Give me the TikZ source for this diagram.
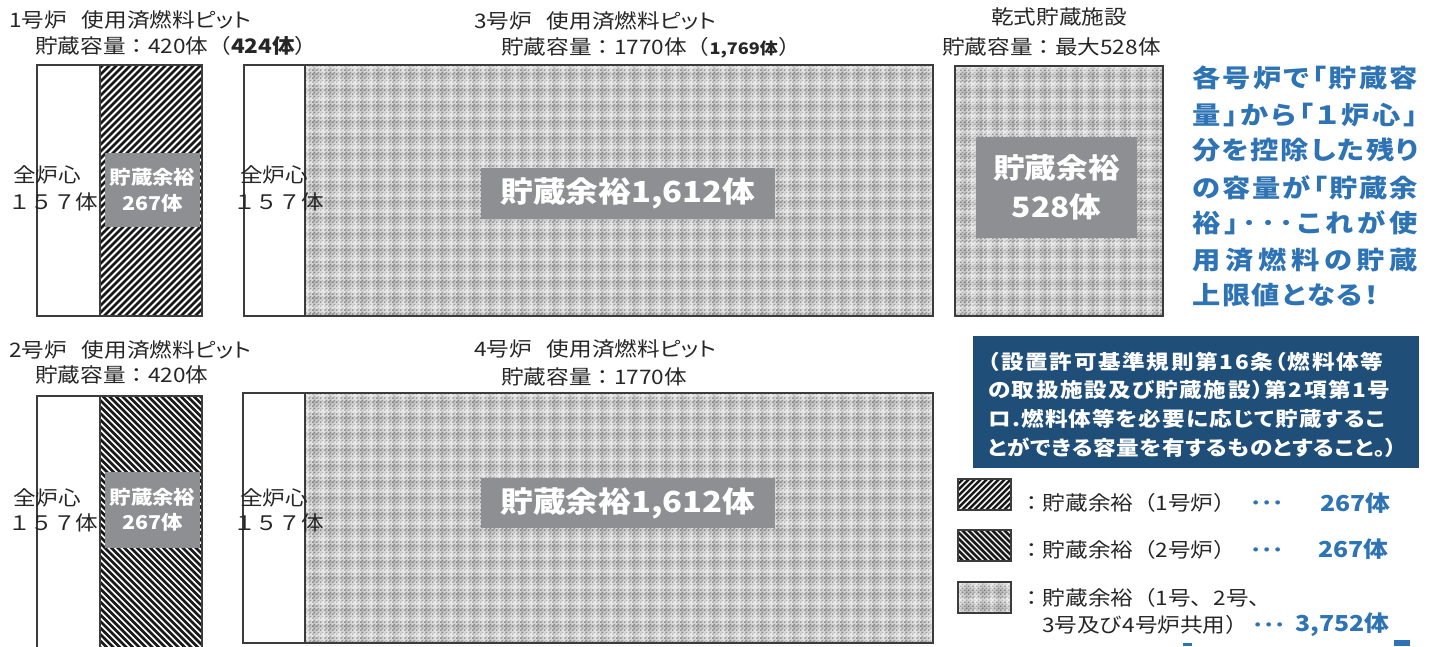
\documentclass[tikz,border=0pt]{standalone}
\usepackage{fontspec}
\setmainfont{Noto Sans CJK JP}[FakeStretch=1.13]
\newfontfamily\pj{Noto Sans CJK JP}[FakeStretch=1.13,RawFeature=+palt]
\usetikzlibrary{patterns}
\definecolor{txtc}{HTML}{262626}
\definecolor{edgec}{HTML}{3C3C3C}
\definecolor{lblc}{HTML}{8E8F93}
\definecolor{bluc}{HTML}{2E74B5}
\definecolor{navyc}{HTML}{1F4E79}
\definecolor{chkbase}{HTML}{D6D6D6}
\definecolor{chkdark}{HTML}{939393}
\pgfdeclarepatternformonly{chk}{\pgfpoint{0pt}{0pt}}{\pgfpoint{4pt}{4pt}}{\pgfpoint{4pt}{4pt}}{%
  \pgfpathrectangle{\pgfpoint{0pt}{0pt}}{\pgfpoint{2pt}{2pt}}%
  \pgfpathrectangle{\pgfpoint{2pt}{2pt}}{\pgfpoint{2pt}{2pt}}%
  \pgfusepath{fill}}
\makeatletter
\newcommand\spreadtxt[2]{\makebox[#1][s]{\spr@a#2\@nil}}
\def\spr@a#1#2\@nil{#1\if\relax\detokenize{#2}\relax\else\hskip 0pt plus 1fil minus 1fil\relax\spr@a#2\@nil\fi}
\makeatother
\newcommand\tdots{\vphantom{体}\bfseries ･･･}
\tikzset{
  lab/.style={inner sep=0pt, text=txtc, font=\fontsize{20}{24}\selectfont},
  core/.style={inner sep=0pt, text=txtc, font=\fontsize{20}{24}\selectfont, anchor=west},
  boxln/.style={draw=edgec, line width=1.8pt},
  hatchln/.style={draw=black!90, line width=2.5pt},
  lblbox/.style={fill=lblc, text=white, inner sep=0pt, align=center},
  bluetxt/.style={inner sep=0pt, text=bluc, anchor=west, font=\pj\bfseries\fontsize{25}{30}\selectfont},
  navytxt/.style={inner sep=0pt, text=white, anchor=west, font=\pj\bfseries\fontsize{20}{24}\selectfont},
  legtxt/.style={inner sep=0pt, text=txtc, anchor=west, font=\fontsize{20}{24}\selectfont},
  legnum/.style={inner sep=0pt, text=bluc, anchor=west, font=\bfseries\fontsize{22}{26}\selectfont},
  legdots/.style={inner sep=0pt, text=bluc, anchor=west, font=\fontsize{20}{24}\selectfont},
}
\newcommand\hatchNE[5]{%
  \begin{scope}
    \clip (#1,#2) rectangle (#3,#4);
    \fill[white] (#1,#2) rectangle (#3,#4);
    \foreach \k in {0,...,75}{\draw[hatchln] ({#1-290+\k*#5},#4) -- ++(330,-330);}
  \end{scope}}
\newcommand\hatchNW[5]{%
  \begin{scope}
    \clip (#1,#2) rectangle (#3,#4);
    \fill[white] (#1,#2) rectangle (#3,#4);
    \foreach \k in {0,...,75}{\draw[hatchln] ({#1-290+\k*#5},#2) -- ++(330,330);}
  \end{scope}}
\newcommand\plaid[4]{%
  \fill[chkbase] (#1,#2) rectangle (#3,#4);
  \fill[pattern=chk, pattern color=chkdark] (#1,#2) rectangle (#3,#4);
  \begin{scope}
    \clip (#1,#2) rectangle (#3,#4);
    \foreach \u in {0,16,...,640}{\fill[white,opacity=0.35] ({#1+\u},#2) rectangle ++(4,{#4-#2});}
    \foreach \v in {0,16,...,270}{\fill[white,opacity=0.35] (#1,{#2+\v}) rectangle ++({#3-#1},4);}
    \foreach \u in {8,24,...,640}{\fill[black,opacity=0.08] ({#1+\u},#2) rectangle ++(3,{#4-#2});}
    \foreach \v in {8,24,...,270}{\fill[black,opacity=0.08] (#1,{#2+\v}) rectangle ++({#3-#1},3);}
  \end{scope}}
\begin{document}
\begin{tikzpicture}[x=1pt,y=-1pt]
\useasboundingbox (0,0) rectangle (1429,646);
\fill[white] (0,0) rectangle (1429,646);

% ---------- top row ----------
\hatchNE{100}{65}{202}{316}{7}
\draw[boxln] (37,65) rectangle (202,316);
\draw[boxln] (100,65) -- (100,316);
\plaid{305}{65}{933}{316}
\draw[boxln] (244,65) rectangle (933,316);
\draw[boxln] (305,65) -- (305,316);
\plaid{955}{66}{1163}{316}
\draw[boxln] (955,66) rectangle (1163,316);

% ---------- bottom row ----------
\hatchNW{100}{396}{202}{650}{6.5}
\draw[boxln] (37,650) -- (37,396) -- (202,396) -- (202,650);
\draw[boxln] (100,396) -- (100,650);
\plaid{305}{393}{933}{643}
\draw[boxln] (243,393) rectangle (933,643);
\draw[boxln] (305,393) -- (305,643);

% ---------- headings ----------
\node[lab, anchor=west] (h1a) at (9,20) {1号炉\hspace{15pt}{\pj 使用済燃料ピット}};
\node[lab, anchor=west] (h1b) at (35,46) {貯蔵容量：420体（\textbf{424体}）};
\node[lab, anchor=west] (h3a) at (474,21) {3号炉\hspace{15pt}{\pj 使用済燃料ピット}};
\node[lab, anchor=west] (h3b) at (501,48) {貯蔵容量：1770体（{\bfseries\fontsize{16}{18}\selectfont 1,769体}）};
\node[lab] (hda) at (1059,17) {乾式貯蔵施設};
\node[lab, anchor=west] (hdb) at (942,47) {貯蔵容量：最大528体};
\node[lab, anchor=west] (h2a) at (9,350) {2号炉\hspace{15pt}{\pj 使用済燃料ピット}};
\node[lab, anchor=west] (h2b) at (35,375) {貯蔵容量：420体};
\node[lab, anchor=west] (h4a) at (474,349) {4号炉\hspace{15pt}{\pj 使用済燃料ピット}};
\node[lab, anchor=west] (h4b) at (501,377) {貯蔵容量：1770体};

% ---------- core labels ----------
\node[core] (c1a) at (13,175) {全炉心};
\node[core] (c1b) at (8,202) {１５７体};
\node[core] (c3a) at (240,175) {全炉心};
\node[core] (c3b) at (233,202) {１５７体};
\node[core] (c2a) at (13,498) {全炉心};
\node[core] (c2b) at (8,523) {１５７体};
\node[core] (c4a) at (240,498) {全炉心};
\node[core] (c4b) at (233,523) {１５７体};

% ---------- margin boxes ----------
\node[lblbox, minimum width=95, minimum height=74, font=\bfseries\fontsize{19}{26}\selectfont] (g1) at (152.5,190) {貯蔵余裕\\267体};
\node[lblbox, minimum width=294, minimum height=51, font=\bfseries\fontsize{29}{34}\selectfont] (g3) at (628,193.5) {貯蔵余裕1,612体};
\node[lblbox, minimum width=161, minimum height=101, font=\bfseries\fontsize{28}{39}\selectfont] (gd) at (1056.5,187.5) {貯蔵余裕\\528体};
\node[lblbox, minimum width=95, minimum height=76, font=\bfseries\fontsize{19}{25}\selectfont] (g2) at (152.5,510) {貯蔵余裕\\267体};
\node[lblbox, minimum width=294, minimum height=50, font=\bfseries\fontsize{29}{34}\selectfont] (g4) at (628,503) {貯蔵余裕1,612体};

% ---------- blue explanation ----------
\node[bluetxt] (b1) at (1192,78) {\spreadtxt{226pt}{各号炉で「貯蔵容}};
\node[bluetxt] (b2) at (1192,115) {\spreadtxt{226pt}{量」から「１炉心」}};
\node[bluetxt] (b3) at (1192,150) {\spreadtxt{226pt}{分を控除した残り}};
\node[bluetxt] (b4) at (1192,188) {\spreadtxt{226pt}{の容量が「貯蔵余}};
\node[bluetxt] (b5) at (1192,223) {\spreadtxt{226pt}{裕」･･･これが使}};
\node[bluetxt] (b6) at (1192,260) {\spreadtxt{226pt}{用済燃料の貯蔵}};
\node[bluetxt] (b7) at (1192,295) {\spreadtxt{186pt}{上限値となる！}};

% ---------- navy box ----------
\fill[navyc] (973,336) rectangle (1419,468);
\node[navytxt] (n1) at (988,362) {\spreadtxt{395pt}{（設置許可基準規則第16条（燃料体等}};
\node[navytxt] (n2) at (988,390) {\spreadtxt{402pt}{の取扱施設及び貯蔵施設）第2項第1号}};
\node[navytxt] (n3) at (988,419) {\spreadtxt{397pt}{ロ.燃料体等を必要に応じて貯蔵するこ}};
\node[navytxt] (n4) at (988,448) {\spreadtxt{409pt}{とができる容量を有するものとすること。）}};

% ---------- legend ----------
\hatchNE{958}{479}{1011}{510}{6}
\draw[draw=edgec, line width=1.5pt] (958,479) rectangle (1011,510);
\hatchNW{958}{530}{1011}{561}{6}
\draw[draw=edgec, line width=1.5pt] (958,530) rectangle (1011,561);
\plaid{958}{582}{1011}{613}
\draw[draw=edgec, line width=1.5pt] (958,582) rectangle (1011,613);

\node[legtxt] (l1) at (1020,503) {：貯蔵余裕（1号炉）};
\node[legdots] (l1d) at (1250,503) {\tdots};
\node[legnum] (l1n) at (1320,503) {267体};
\node[legtxt] (l2) at (1020,550) {：貯蔵余裕（2号炉）};
\node[legdots] (l2d) at (1250,550) {\tdots};
\node[legnum] (l2n) at (1318,549) {267体};
\node[legtxt] (l3) at (1020,598) {：貯蔵余裕（1号、2号、};
\node[legtxt] (l4) at (1042,625) {3号及び4号炉共用）};
\node[legdots] (l4d) at (1252,625) {\tdots};
\node[legnum] (l4n) at (1295,625) {3,752体};

% cut-off marks at the lower edge
\fill[bluc] (1183,643) rectangle (1192,646);
\fill[bluc] (1394,640) rectangle (1410,646);
\end{tikzpicture}
\end{document}
